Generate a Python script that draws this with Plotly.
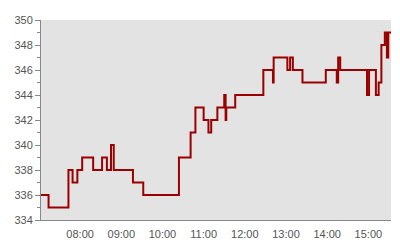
import plotly.graph_objects as go

day = "2024-01-02 "
times = ["07:03", "07:14", "07:43", "07:49", "07:56", "08:03", "08:19", "08:32", "08:39",
         "08:45", "08:49", "09:17", "09:32", "10:24", "10:41", "10:48", "11:00", "11:07",
         "11:11", "11:20", "11:30", "11:32", "11:33", "11:46", "12:27", "12:41", "12:42",
         "13:02", "13:06", "13:10", "13:24", "13:58", "14:14", "14:16", "14:19", "14:58",
         "15:01", "15:11", "15:15", "15:19", "15:24", "15:27", "15:29", "15:33"]
values = [336, 335, 338, 337, 338, 339, 338, 339, 338,
          340, 338, 337, 336, 339, 341, 343, 342, 341,
          342, 343, 344, 342, 343, 344, 346, 345, 347,
          346, 347, 346, 345, 346, 345, 347, 346, 344,
          346, 344, 345, 348, 349, 347, 349, 349]
x_ticks = ["08:00", "09:00", "10:00", "11:00", "12:00", "13:00", "14:00", "15:00"]
y_range = [334, 350]

xs = [day + t for t in times]

fig = go.Figure()
fig.add_trace(go.Scatter(
    x=xs, y=values, mode="lines", line_shape="hv",
    line=dict(color="#9b0000", width=2), hoverinfo="skip", showlegend=False))

fig.update_layout(
    width=400, height=240,
    margin=dict(l=41, r=9, t=20, b=20),
    paper_bgcolor="white", plot_bgcolor="#e3e3e3",
    font=dict(family="Liberation Sans, Arial, sans-serif", size=11, color="#555555"),
)
fig.update_xaxes(
    type="date", range=[xs[0], xs[-1]], automargin=False,
    tickvals=[day + t for t in x_ticks], ticktext=x_ticks,
    showgrid=False, zeroline=False, showline=True, linecolor="#888888", linewidth=1,
    ticks="", ticklabelstandoff=4,
)
fig.update_yaxes(
    range=y_range, dtick=2, showgrid=False, zeroline=False, automargin=False,
    showline=True, linecolor="#888888", linewidth=1,
    ticks="outside", ticklen=5, tickcolor="#888888",
    minor=dict(dtick=1, ticks="outside", ticklen=3, tickcolor="#888888"),
)
fig.write_html("out.html")
